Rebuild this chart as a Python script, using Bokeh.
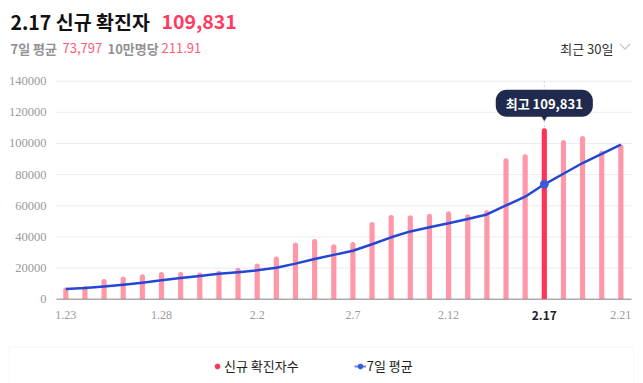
from bokeh.plotting import figure
from bokeh.models import (Label, LabelSet, BoxAnnotation, Legend, LegendItem,
                          ColumnDataSource, Range1d)
from bokeh.embed import file_html
from bokeh.resources import INLINE

# ---- data ----
dates = ["1.23", "1.24", "1.25", "1.26", "1.27", "1.28", "1.29", "1.30", "1.31",
         "2.1", "2.2", "2.3", "2.4", "2.5", "2.6", "2.7", "2.8", "2.9", "2.10",
         "2.11", "2.12", "2.13", "2.14", "2.15", "2.16", "2.17", "2.18", "2.19",
         "2.20", "2.21"]
cases = [7513, 8571, 13012, 14518, 16096, 17542, 17528, 17079, 18342,
         20270, 22907, 27443, 36362, 38691, 35286, 36719, 49567, 54122, 53926,
         54941, 56431, 54619, 57177, 90443, 93135, 109831, 102211, 104829,
         95362, 99573]
avg7 = [6485, 7128, 8158, 9289, 10621, 12126, 13540, 14907, 16302,
        17339, 18538, 20159, 22847, 25871, 28472, 31097, 35282, 39741, 43525,
        46179, 48713, 51475, 54398, 60237, 65810, 73797, 80550, 87464,
        93284, 99341]
y_ticks = [0, 20000, 40000, 60000, 80000, 100000, 120000, 140000]
y_tick_labels = ["0", "20000", "40000", "60000", "80000", "100000", "120000", "140000"]
x_tick_idx = [0, 5, 10, 15, 20, 25, 29]
title_date = "2.17"
title_value = "109,831"
avg_label = "7일 평균"
avg_value = "73,797"
per_label = "10만명당"
per100k = "211.91"
period = "최근 30일"
series_names = ["신규 확진자수", "7일 평균"]

# ---- style / layout (pixels) ----
FONT = "Noto Sans CJK KR"
PINK = "#ff97a8"
RED = "#ff3358"
BLUE = "#2446d6"
NAVY = "#1f2a4e"
W, H = 643, 383
PX_PER_DAY = 19.14      # horizontal pixels per day
X0_PX = 65.3            # canvas x of the first day
BASE_PX = 298.7         # canvas y (from top) of value 0
PLOT_H_PX = 218         # pixels from 0 to the top tick
CHART_L, CHART_R = 56, 631   # canvas x extent of the plotting area

vpp = y_ticks[-1] / PLOT_H_PX
x_start = -X0_PX / PX_PER_DAY
x_end = (W - X0_PX) / PX_PER_DAY
gx0 = (CHART_L - X0_PX) / PX_PER_DAY
gx1 = (CHART_R - X0_PX) / PX_PER_DAY


def dx(px):
    return (px - X0_PX) / PX_PER_DAY


def dy(py):
    return (BASE_PX - py) * vpp


hi = cases.index(max(cases))
xs = list(range(len(dates)))

p = figure(width=W, height=H, output_backend="svg", toolbar_location=None,
           x_range=Range1d(x_start, x_end),
           y_range=Range1d(-(H - BASE_PX) * vpp, BASE_PX * vpp),
           min_border=0, x_axis_type=None, y_axis_type=None)
p.outline_line_color = None
p.grid.visible = False

# grid lines
n = len(y_ticks)
p.segment(x0=[gx0] * n, x1=[gx1] * n, y0=y_ticks, y1=y_ticks,
          line_color="#ececec", line_width=1)

# y tick labels
p.add_layout(LabelSet(x="x", y="y", text="t", x_offset=-10,
                      source=ColumnDataSource(dict(x=[gx0] * n, y=y_ticks,
                                                   t=y_tick_labels)),
                      text_align="right", text_baseline="middle", text_font=FONT,
                      text_font_size="12.5px", text_color="#9a9a9a"))

# dotted guide at highlighted day
p.segment(x0=[hi], x1=[hi], y0=[0], y1=[y_ticks[-1]], line_color="#d4d4d4",
          line_dash="2 2", line_width=1)

# bars
colors = [RED if i == hi else PINK for i in xs]
src = ColumnDataSource(dict(x=xs, top=cases, color=colors))
p.vbar(x="x", top="top", bottom=0, width=0.27, source=src, fill_color="color",
       line_color=None, border_radius=(3, 3, 0, 0))

# baseline
p.segment(x0=[gx0], x1=[gx1], y0=[0], y1=[0], line_color="#8c8c8c", line_width=1)

# 7-day average line
p.line(xs, avg7, line_width=2.5, line_color=BLUE, line_join="round")
p.scatter([hi], [avg7[hi]], size=8, marker="circle", fill_color="#3b5bd8",
          line_color="#3b5bd8")

# x tick labels
tx = [i for i in x_tick_idx if i != hi]
p.add_layout(LabelSet(x="x", y="y", text="t", y_offset=-16,
                      source=ColumnDataSource(dict(x=tx, y=[0] * len(tx),
                                                   t=[dates[i] for i in tx])),
                      text_align="center", text_baseline="middle", text_font=FONT,
                      text_font_size="12px", text_color="#9a9a9a"))
p.add_layout(Label(x=hi, y=0, y_offset=-16, text=dates[hi], text_align="center",
                   text_baseline="middle", text_font=FONT, text_font_size="12px",
                   text_font_style="bold", text_color="#222222"))

# tooltip
p.add_layout(Label(x=hi, y=max(cases), y_offset=25, text="최고 " + title_value,
                   text_align="center", text_baseline="middle", text_font=FONT,
                   text_font_size="13px", text_font_style="bold", text_color="white",
                   background_fill_color=NAVY,
                   padding=dict(left=10, right=10, top=4, bottom=4),
                   border_radius=11))
p.add_layout(Label(x=hi, y=max(cases), y_offset=11, text="▼", text_align="center",
                   text_baseline="middle", text_font=FONT, text_font_size="9px",
                   text_color=NAVY))


# header texts (screen units: x from left, y from bottom)
def lab(x, y_top, text, size, color, bold=False, align="left", font=FONT):
    p.add_layout(Label(x=x, y=H - y_top, x_units="screen", y_units="screen",
                       text=text, text_align=align, text_baseline="middle",
                       text_font=font, text_font_size=size, text_color=color,
                       text_font_style="bold" if bold else "normal"))


lab(10, 21, title_date + " 신규 확진자", "19.5px", "#111111", bold=True)
lab(161, 21, title_value, "19.5px", "#ff3b5f", bold=True)
lab(10, 47.5, avg_label, "13px", "#929292", bold=True)
lab(62, 47.5, avg_value, "13px", "#ff5a7a")
lab(107, 47.5, per_label, "13px", "#929292", bold=True)
lab(161, 47.5, per100k, "13px", "#ff5a7a")
lab(613, 47.5, period, "13px", "#333333", align="right")

# dropdown chevron
p.line([dx(619.5), dx(624.5), dx(629.5)], [dy(43.5), dy(48.5), dy(43.5)],
       line_color="#c4c4c4", line_width=1.2)

# legend box
p.add_layout(BoxAnnotation(left=8.5, right=633, top=H - 346.7, bottom=-5,
                           left_units="screen", right_units="screen",
                           top_units="screen", bottom_units="screen",
                           fill_color=None, line_color="#e4e4e4", line_width=1))

# legend (dummy renderers lie outside the visible range)
off = [x_start - 10]
r1 = p.scatter(x=off, y=[0], marker="circle", size=4, fill_color=RED, line_color=RED)
r2 = p.line(x=off, y=[0], line_color="#6f86e4", line_width=2)
r3 = p.scatter(x=off, y=[0], marker="circle", size=4, fill_color="#3b5bd8",
               line_color="#3b5bd8")
leg = Legend(items=[LegendItem(label=series_names[0], renderers=[r1]),
                    LegendItem(label=series_names[1], renderers=[r2, r3])],
             location=(211, H - 375), orientation="horizontal",
             glyph_width=12, glyph_height=16, label_height=16, label_standoff=1,
             spacing=55, padding=0, margin=0, border_line_color=None,
             background_fill_alpha=0, label_text_font=FONT,
             label_text_font_size="13px", label_text_color="#222222")
p.add_layout(leg)

open("out.html", "w").write(file_html(p, INLINE))
